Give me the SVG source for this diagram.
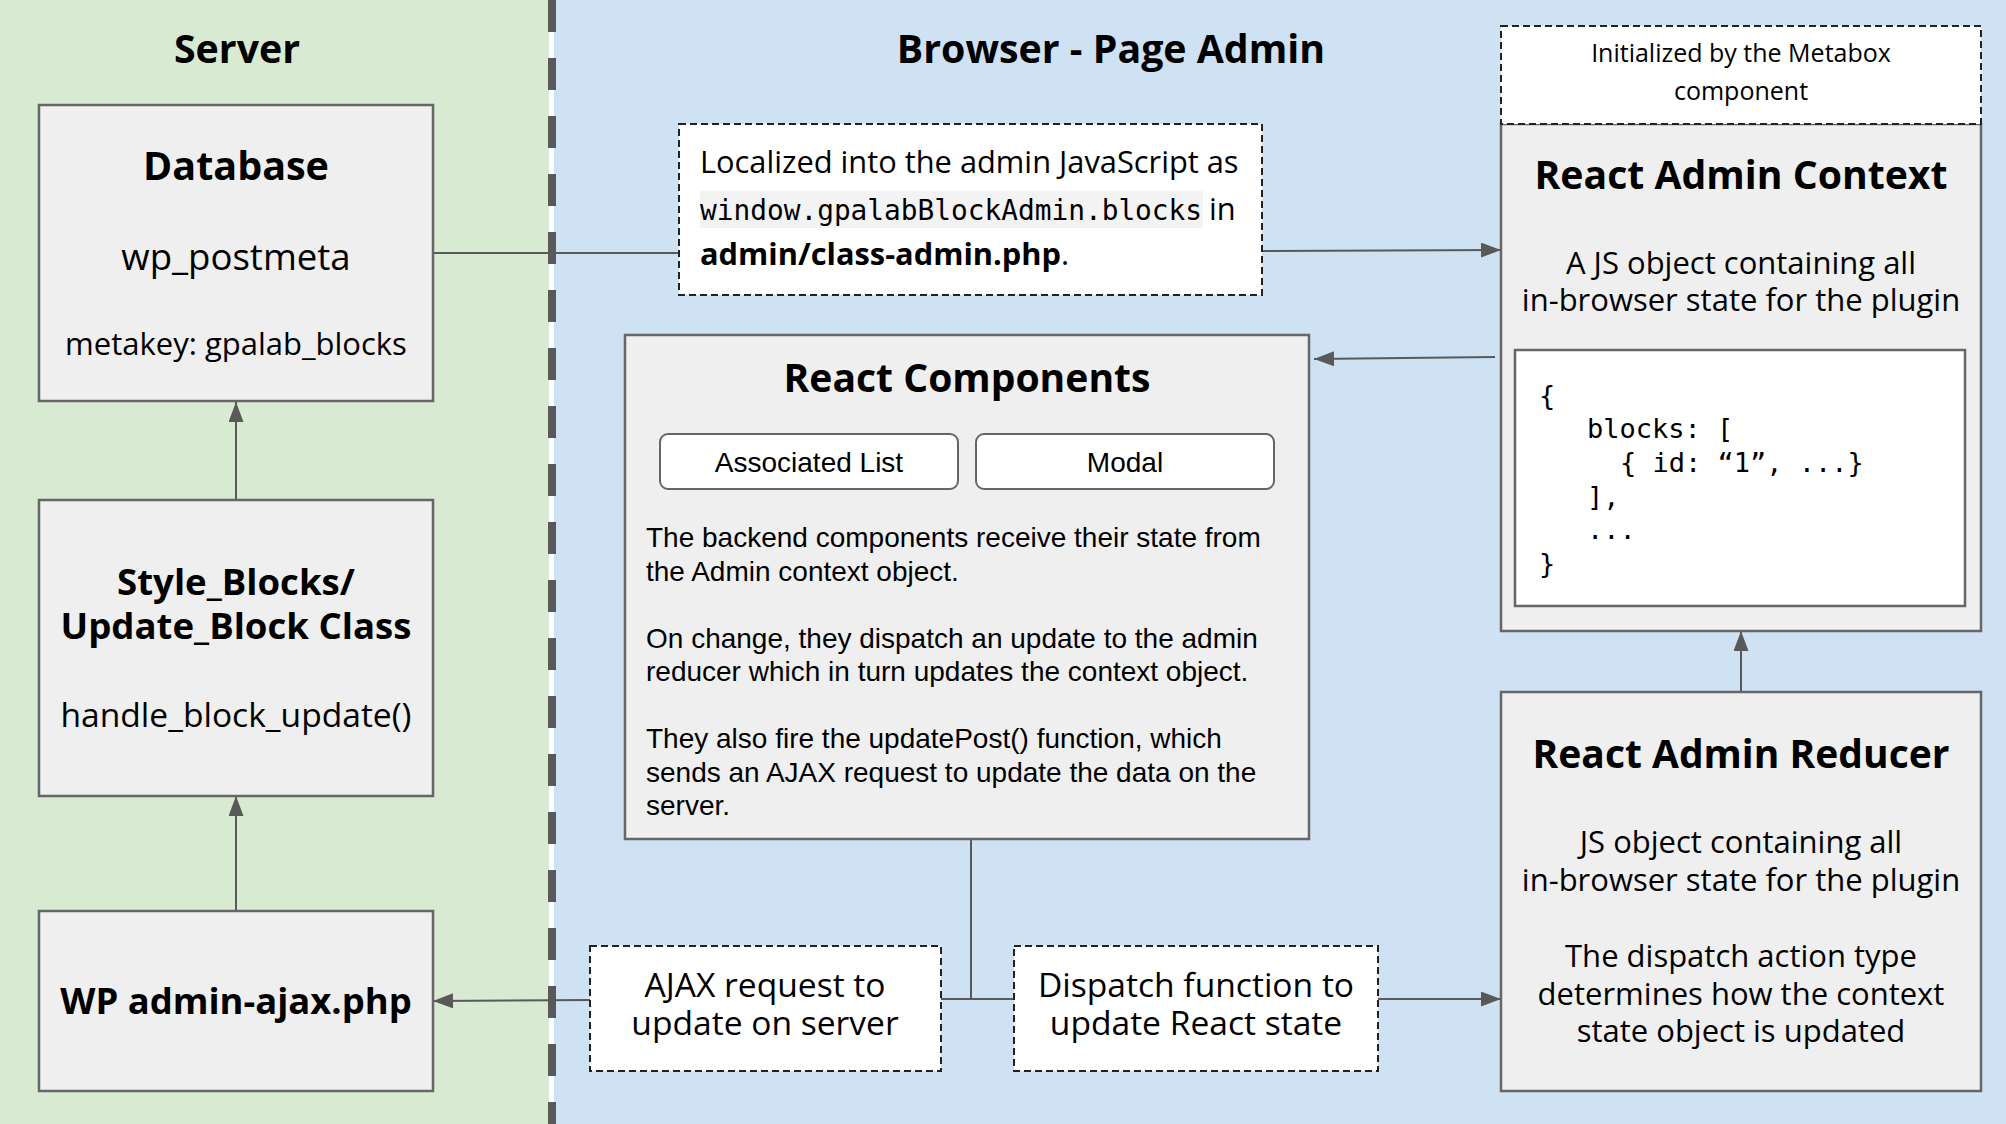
<svg xmlns="http://www.w3.org/2000/svg" width="2006" height="1124" viewBox="0 0 2006 1124">
<defs>
<marker id="ah" markerUnits="userSpaceOnUse" markerWidth="20" markerHeight="15" refX="20" refY="7.5" orient="auto">
<path d="M0,0 L20,7.5 L0,15 z" fill="#595959"/>
</marker>
<style>
.box{fill:#efefef;stroke:#666666;stroke-width:2.5}
.dbox{fill:#ffffff;stroke:#222222;stroke-width:2;stroke-dasharray:7 4}
.btn{fill:#ffffff;stroke:#666666;stroke-width:2}
.os{font-family:"Open Sans","DejaVu Sans",sans-serif;fill:#000}
.b{font-weight:700}
.ar{font-family:"Liberation Sans",Arial,sans-serif;fill:#000}
.mono{font-family:"DejaVu Sans Mono","Liberation Mono",monospace;fill:#000}
.c{text-anchor:middle}
.conn{stroke:#595959;stroke-width:2;fill:none}
</style>
</defs>
<g id="background">
<rect x="0" y="0" width="552" height="1124" fill="#d9ead3"/>
<rect x="552" y="0" width="1454" height="1124" fill="#cfe2f3"/>
<rect x="549" y="0" width="5" height="1124" fill="#ffffff"/>
<line x1="552" y1="0" x2="552" y2="1124" stroke="#595959" stroke-width="8" stroke-dasharray="32 26"/>
<text class="os b c" x="237" y="63" font-size="39.3">Server</text>
<text class="os b c" x="1111" y="63" font-size="39.3">Browser - Page Admin</text>
</g>
<g id="connectors">
<line class="conn" x1="433" y1="253" x2="679" y2="253"/>
<line class="conn" x1="1262" y1="251" x2="1501" y2="250" marker-end="url(#ah)"/>
<line class="conn" x1="236" y1="500" x2="236" y2="402" marker-end="url(#ah)"/>
<line class="conn" x1="236" y1="911" x2="236" y2="796" marker-end="url(#ah)"/>
<line class="conn" x1="1495" y1="357" x2="1314" y2="359" marker-end="url(#ah)"/>
<line class="conn" x1="1741" y1="692" x2="1741" y2="631" marker-end="url(#ah)"/>
<polyline class="conn" points="971,839 971,999"/>
<line class="conn" x1="941" y1="999" x2="1014" y2="999"/>
<line class="conn" x1="590" y1="1000" x2="433" y2="1001" marker-end="url(#ah)"/>
<line class="conn" x1="1378" y1="999" x2="1501" y2="999" marker-end="url(#ah)"/>
</g>
<g id="database">
<rect class="box" x="39" y="105" width="394" height="296"/>
<text class="os b c" x="236" y="180" font-size="39.5">Database</text>
<text class="os c" x="236" y="270" font-size="36.6">wp_postmeta</text>
<text class="os c" x="236" y="355" font-size="31">metakey: gpalab_blocks</text>
</g>
<g id="style-blocks">
<rect class="box" x="39" y="500" width="394" height="296"/>
<text class="os b c" x="236" y="595" font-size="36.6">Style_Blocks/</text>
<text class="os b c" x="236" y="639" font-size="36.6">Update_Block Class</text>
<text class="os c" x="236" y="727" font-size="33.6">handle_block_update()</text>
</g>
<g id="wp-admin-ajax">
<rect class="box" x="39" y="911" width="394" height="180"/>
<text class="os b c" x="236" y="1014" font-size="36.4">WP admin-ajax.php</text>
</g>
<g id="localized">
<rect class="dbox" x="679" y="124" width="583" height="171"/>
<text class="os" x="700" y="173" font-size="30.8">Localized into the admin JavaScript as</text>
<rect x="700" y="191" width="503" height="37" fill="#f3f3f3"/>
<text class="mono" x="700" y="220" font-size="27.8">window.gpalabBlockAdmin.blocks</text>
<text class="os" x="1209" y="220" font-size="30.8">in</text>
<text class="os" x="700" y="265" font-size="30.8"><tspan font-weight="700">admin/class-admin.php</tspan>.</text>
</g>
<g id="react-admin-context">
<rect class="box" x="1501" y="124" width="480" height="507"/>
<rect class="dbox" x="1501" y="26" width="480" height="98"/>
<text class="os c" x="1741" y="62" font-size="25">Initialized by the Metabox</text>
<text class="os c" x="1741" y="100" font-size="25">component</text>
<text class="os b c" x="1741" y="189" font-size="39.2">React Admin Context</text>
<text class="os c" x="1741" y="274" font-size="31">A JS object containing all</text>
<text class="os c" x="1741" y="311" font-size="31">in-browser state for the plugin</text>
<rect x="1515" y="350" width="450" height="256" fill="#ffffff" stroke="#666666" stroke-width="2.5"/>
<text class="mono" font-size="27">
<tspan x="1539" y="405">{</tspan>
<tspan x="1587" y="438">blocks: [</tspan>
<tspan x="1620" y="472">{ id: “1”, ...}</tspan>
<tspan x="1587" y="506">],</tspan>
<tspan x="1587" y="539">...</tspan>
<tspan x="1539" y="573">}</tspan>
</text>
</g>
<g id="react-components">
<rect class="box" x="625" y="335" width="684" height="504"/>
<text class="os b c" x="967" y="392" font-size="39.1">React Components</text>
<rect class="btn" x="660" y="434" width="298" height="55" rx="8"/>
<text class="ar c" x="809" y="472" font-size="28">Associated List</text>
<rect class="btn" x="976" y="434" width="298" height="55" rx="8"/>
<text class="ar c" x="1125" y="472" font-size="28">Modal</text>
<text class="ar" font-size="28">
<tspan x="646" y="547">The backend components receive their state from</tspan>
<tspan x="646" y="580.5">the Admin context object.</tspan>
<tspan x="646" y="647.5">On change, they dispatch an update to the admin</tspan>
<tspan x="646" y="681">reducer which in turn updates the context object.</tspan>
<tspan x="646" y="748">They also fire the updatePost() function, which</tspan>
<tspan x="646" y="781.5">sends an AJAX request to update the data on the</tspan>
<tspan x="646" y="815">server.</tspan>
</text>
</g>
<g id="ajax-request">
<rect class="dbox" x="590" y="946" width="351" height="125"/>
<text class="os c" x="765" y="997" font-size="33.6">AJAX request to</text>
<text class="os c" x="765" y="1035" font-size="33.6">update on server</text>
</g>
<g id="dispatch-function">
<rect class="dbox" x="1014" y="946" width="364" height="125"/>
<text class="os c" x="1196" y="997" font-size="33.6">Dispatch function to</text>
<text class="os c" x="1196" y="1035" font-size="33.6">update React state</text>
</g>
<g id="react-admin-reducer">
<rect class="box" x="1501" y="692" width="480" height="399"/>
<text class="os b c" x="1741" y="768" font-size="39">React Admin Reducer</text>
<text class="os c" x="1741" y="853" font-size="31">JS object containing all</text>
<text class="os c" x="1741" y="891" font-size="31">in-browser state for the plugin</text>
<text class="os c" x="1741" y="967" font-size="31">The dispatch action type</text>
<text class="os c" x="1741" y="1005" font-size="31">determines how the context</text>
<text class="os c" x="1741" y="1042" font-size="31">state object is updated</text>
</g>
</svg>
